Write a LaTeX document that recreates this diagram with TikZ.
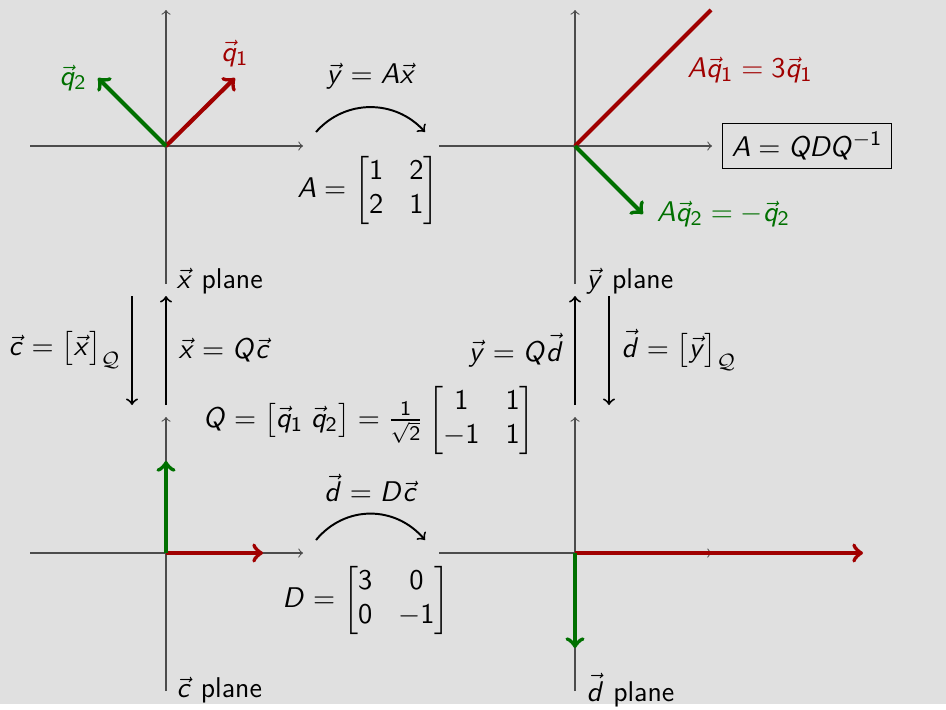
\documentclass[tikz,border=0pt]{standalone}
\usepackage{amsmath}
% sans serif math, as on a slide
\DeclareSymbolFont{operators}{OT1}{cmss}{m}{n}
\DeclareSymbolFont{letters}{OT1}{cmss}{m}{sl}
\DeclareSymbolFont{vecletters}{OML}{cmm}{m}{it}
\DeclareMathAccent{\vec}{\mathord}{vecletters}{"7E}
\definecolor{slidebg}{RGB}{224,224,224}
\definecolor{qone}{RGB}{160,0,0}
\definecolor{qtwo}{RGB}{0,112,0}
\tikzset{every picture/.style={line width=0.75pt}}
\tikzset{
  axis/.style={black!70, line width=0.4pt, ->},
  vecarrow/.style={line width=1.6pt, ->},
  maparrow/.style={line width=0.75pt, ->},
  lbl/.style={font=\fontsize{11}{13}\selectfont\sffamily, inner sep=1pt}
}

\begin{document}
\begin{tikzpicture}[x=0.385pt,y=0.385pt,yscale=-1,every node/.style={lbl}]
%set diagram left start at 0, and has height of 704
\path[fill=slidebg] (0,0) rectangle (946,704);

%Origins of the four planes
\coordinate (ox) at (166,146);
\coordinate (oy) at (575,146);
\coordinate (oc) at (166,553);
\coordinate (od) at (575,553);

%Axes
\foreach \o in {ox,oy,oc,od}{
  \draw[axis] (\o) ++(-136,0) -- ++(273,0);
  \draw[axis] (\o) ++(0,138) -- ++(0,-274);
}

%Vectors: x plane
\coordinate (q1tip) at (235,78);
\coordinate (q2tip) at (98,78);
\draw[vecarrow, qone] (ox) -- (q1tip);
\draw[vecarrow, qtwo] (ox) -- (q2tip);
\node[qone, above=3pt] (q1lbl) at (q1tip) {$\vec q_1$};
\node[qtwo, left=3pt] (q2lbl) at (q2tip) {$\vec q_2$};
\node[anchor=west] (xplane) at (173,281) {$\vec x$ plane};

%Vectors: y plane
\coordinate (aq1end) at (711,10);
\coordinate (aq2tip) at (643,214);
\draw[line width=1.6pt, qone] (oy) -- (aq1end);
\draw[vecarrow, qtwo] (oy) -- (aq2tip);
\node[qone] (aq1lbl) at (750,70) {$A\vec q_1 = 3\vec q_1$};
\node[qtwo, right=4pt] (aq2lbl) at (aq2tip) {$A\vec q_2 = -\vec q_2$};
\node[anchor=west] (yplane) at (583,281) {$\vec y$ plane};
\node[draw, line width=0.4pt, inner sep=3.5pt] (decomp) at (807,146) {$A = QDQ^{-1}$};

%Map A
\coordinate (ma1) at (316,132);
\coordinate (ma2) at (425,132);
\draw[maparrow] (ma1) .. controls (345,99) and (395,99) .. (ma2);
\node (mapA) at (371,76) {$\vec y = A\vec x$};
\node (matA) at (368,190) {$A = \begin{bmatrix}1 & 2\\ 2 & 1\end{bmatrix}$};

%Change of basis, left
\coordinate (lx1) at (132,296);
\coordinate (lx2) at (132,405);
\coordinate (lc1) at (166,405);
\coordinate (lc2) at (166,296);
\draw[maparrow] (lx1) -- (lx2);
\draw[maparrow] (lc1) -- (lc2);
\node[anchor=east] (ctox) at (124,350) {$\vec c = \bigl[\vec x\bigr]_{\mathcal{Q}}$};
\node[anchor=west] (xtoc) at (175,350) {$\vec x = Q\vec c$};

%Change of basis, right
\coordinate (rd1) at (575,405);
\coordinate (rd2) at (575,296);
\coordinate (ry1) at (609,296);
\coordinate (ry2) at (609,405);
\draw[maparrow] (rd1) -- (rd2);
\draw[maparrow] (ry1) -- (ry2);
\node[anchor=east] (ytod) at (567,350) {$\vec y = Q\vec d$};
\node[anchor=west] (dtoy) at (618,350) {$\vec d = \bigl[\vec y\bigr]_{\mathcal{Q}}$};

\node (matQ) at (369,420) {$Q = \bigl[\vec q_1\;\vec q_2\bigr] = \frac{1}{\sqrt{2}}\begin{bmatrix}1 & 1\\ -1 & 1\end{bmatrix}$};

%Vectors: c plane
\coordinate (e1tip) at (263,553);
\coordinate (e2tip) at (166,461);
\draw[vecarrow, qone] (oc) -- (e1tip);
\draw[vecarrow, qtwo] (oc) -- (e2tip);
\node[anchor=west] (cplane) at (173,690) {$\vec c$ plane};

%Vectors: d plane
\coordinate (de1tip) at (863,553);
\coordinate (de2tip) at (575,648);
\draw[vecarrow, qone] (od) -- (de1tip);
\draw[vecarrow, qtwo] (od) -- (de2tip);
\node[anchor=west] (dplane) at (583,690) {$\vec d$ plane};

%Map D
\coordinate (md1) at (316,540);
\coordinate (md2) at (425,540);
\draw[maparrow] (md1) .. controls (345,505) and (395,505) .. (md2);
\node (mapD) at (371,488) {$\vec d = D\vec c$};
\node (matD) at (366,600) {$D = \begin{bmatrix}3 & 0\\ 0 & -1\end{bmatrix}$};

\end{tikzpicture}
\end{document}
